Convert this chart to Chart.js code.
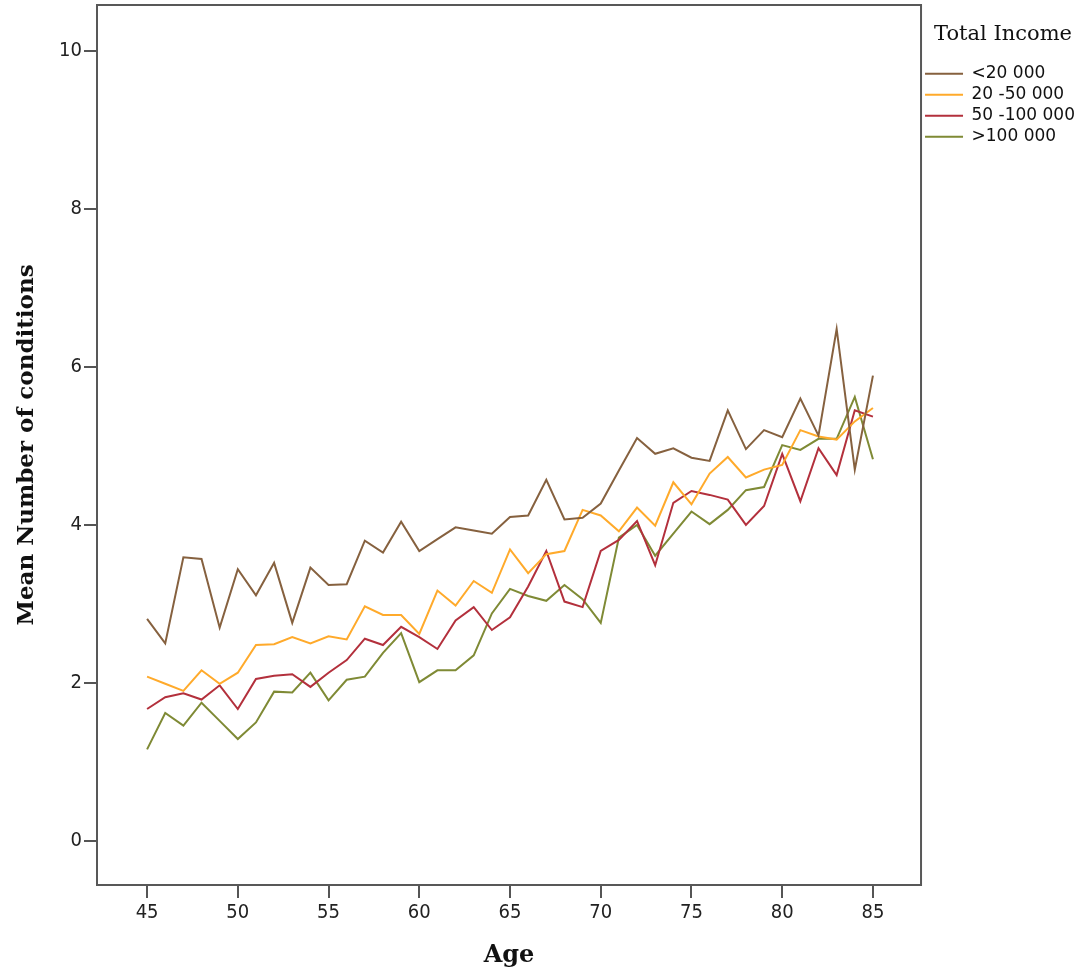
<!DOCTYPE html>
<html>
<head>
<meta charset="utf-8">
<script src="https://cdn.jsdelivr.net/npm/chart.js@4.4.1/dist/chart.umd.min.js"></script>
<style>
  body { margin: 0; background: #fff; }
</style>
</head>
<body>
<canvas id="myChart" width="1087" height="972"></canvas>
<script>
const ages = [45, 46, 47, 48, 49, 50, 51, 52, 53, 54, 55, 56, 57, 58, 59, 60, 61, 62, 63, 64, 65,
    66, 67, 68, 69, 70, 71, 72, 73, 74, 75, 76, 77, 78, 79, 80, 81, 82, 83, 84, 85];

const incomeUnder20 = [2.81, 2.50, 3.59, 3.57, 2.70, 3.44, 3.11, 3.52, 2.76, 3.46, 3.24, 3.25, 3.80,
    3.65, 4.04, 3.67, 3.82, 3.97, 3.93, 3.89, 4.10, 4.12, 4.57, 4.07, 4.09, 4.27, 4.69, 5.10,
    4.90, 4.97, 4.85, 4.81, 5.45, 4.96, 5.20, 5.11, 5.60, 5.13, 6.48, 4.70, 5.89];
const income20to50 = [2.08, 1.99, 1.90, 2.16, 1.99, 2.13, 2.48, 2.49, 2.58, 2.50, 2.59, 2.55, 2.97,
    2.86, 2.86, 2.62, 3.17, 2.98, 3.29, 3.14, 3.69, 3.39, 3.63, 3.67, 4.19, 4.12, 3.92, 4.22,
    3.99, 4.54, 4.26, 4.65, 4.86, 4.60, 4.70, 4.76, 5.20, 5.12, 5.08, 5.31, 5.48];
const income50to100 = [1.67, 1.82, 1.87, 1.79, 1.97, 1.67, 2.05, 2.09, 2.11, 1.95, 2.13, 2.29, 2.56,
    2.48, 2.71, 2.58, 2.43, 2.79, 2.96, 2.67, 2.83, 3.22, 3.67, 3.03, 2.96, 3.67, 3.81, 4.05,
    3.49, 4.28, 4.43, 4.38, 4.32, 4.00, 4.24, 4.90, 4.30, 4.97, 4.63, 5.45, 5.37];
const incomeOver100 = [1.16, 1.62, 1.46, 1.75, 1.52, 1.29, 1.50, 1.89, 1.88, 2.13, 1.78, 2.04, 2.08,
    2.38, 2.63, 2.01, 2.16, 2.16, 2.35, 2.88, 3.19, 3.10, 3.04, 3.24, 3.06, 2.76, 3.84, 4.00,
    3.61, 3.89, 4.17, 4.01, 4.19, 4.44, 4.48, 5.01, 4.95, 5.09, 5.09, 5.62, 4.83];

const seriesLabels = ['<20 000', '20 -50 000', '50 -100 000', '>100 000'];
const seriesColors = ['#86613f', '#ffaa2b', '#b3303c', '#7f8a35'];
const xTicks = [45, 50, 55, 60, 65, 70, 75, 80, 85];
const yTicks = [0, 2, 4, 6, 8, 10];

const seriesValues = [incomeUnder20, income20to50, income50to100, incomeOver100];

// box round the plot area, like the SPSS frame
const frame = {
    id: 'frame',
    afterDraw(chart) {
        const { ctx, chartArea } = chart;
        ctx.save();
        ctx.strokeStyle = '#585858';
        ctx.lineWidth = 2;
        ctx.strokeRect(chartArea.left, chartArea.top, chartArea.right - chartArea.left, chartArea.bottom - chartArea.top);
        ctx.restore();
    }
};

const ctx = document.getElementById('myChart');

new Chart(ctx, {
    type: 'line',
    data: {
        datasets: seriesValues.map((vals, i) => ({
            label: seriesLabels[i],
            data: vals.map((v, j) => ({ x: ages[j], y: v })),
            borderColor: seriesColors[i],
            backgroundColor: seriesColors[i],
            borderWidth: 2,
            pointRadius: 0,
            tension: 0
        }))
    },
    options: {
        responsive: false,
        animation: false,
        layout: { padding: { top: 5, right: 2 } },
        plugins: {
            tooltip: { enabled: false },
            legend: {
                position: 'right',
                align: 'start',
                title: {
                    display: true,
                    text: 'Total Income',
                    color: '#111',
                    font: { family: 'DejaVu Serif', size: 21 },
                    padding: { top: 19, bottom: 12 }
                },
                labels: {
                    color: '#111',
                    font: { family: 'DejaVu Sans', size: 17, lineHeight: 1.15 },
                    boxWidth: 38,
                    boxHeight: 0,
                    padding: 4
                }
            }
        },
        scales: {
            x: {
                type: 'linear',
                min: 42.24,
                max: 87.65,
                afterBuildTicks: s => { s.ticks = xTicks.map(v => ({ value: v })); },
                afterFit: s => { s.height = 87; s.paddingLeft = 0; s.paddingRight = 0; },
                ticks: {
                    color: '#222',
                    font: { family: "'DejaVu Sans Condensed', 'DejaVu Sans'", size: 20 },
                    padding: 3,
                    maxRotation: 0
                },
                grid: { drawOnChartArea: false, tickLength: 13, color: '#555', lineWidth: 2 },
                border: { display: false },
                title: {
                    display: true,
                    text: 'Age',
                    color: '#111',
                    font: { family: 'DejaVu Serif', size: 24, weight: 'bold' },
                    padding: { top: 0, bottom: 2 }
                }
            },
            y: {
                min: -0.557,
                max: 10.58,
                afterBuildTicks: s => { s.ticks = yTicks.map(v => ({ value: v })); },
                afterFit: s => { s.width = 97; s.paddingTop = 0; s.paddingBottom = 0; },
                ticks: {
                    color: '#222',
                    font: { family: "'DejaVu Sans Condensed', 'DejaVu Sans'", size: 20 },
                    padding: 2
                },
                grid: { drawOnChartArea: false, tickLength: 13, color: '#555', lineWidth: 2 },
                border: { display: false },
                title: {
                    display: true,
                    text: 'Mean Number of conditions',
                    color: '#111',
                    font: { family: 'DejaVu Serif', size: 23, weight: 'bold' },
                    padding: { top: 13, bottom: 0 }
                }
            }
        }
    },
    plugins: [frame]
});
</script>
</body>
</html>
